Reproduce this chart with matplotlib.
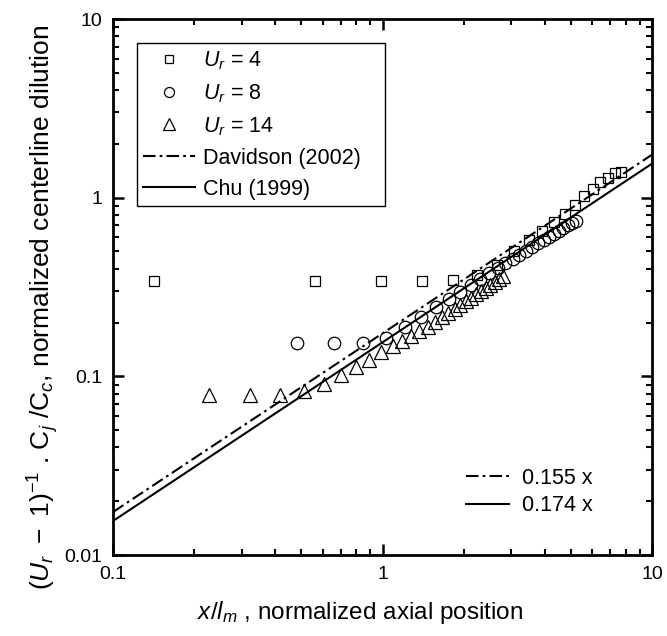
import matplotlib
matplotlib.use("Agg")
import matplotlib.pyplot as plt
import numpy as np
from matplotlib.lines import Line2D

plt.rcParams['font.family'] = ['Liberation Sans', 'DejaVu Sans']
plt.rcParams['mathtext.fontset'] = 'custom'
plt.rcParams['mathtext.rm'] = 'Liberation Sans'
plt.rcParams['mathtext.it'] = 'Liberation Sans:italic'
plt.rcParams['mathtext.bf'] = 'Liberation Sans:bold'

# Measured centerline dilution, Ur = 4
x_ur4 = [0.142, 0.562, 0.987, 1.40, 1.83, 2.24, 2.66, 3.08, 3.50, 3.92,
         4.34, 4.76, 5.18, 5.60, 6.02, 6.44, 6.86, 7.28, 7.70]
y_ur4 = [0.340, 0.340, 0.340, 0.340, 0.345, 0.370, 0.420, 0.500, 0.580, 0.650,
         0.730, 0.810, 0.910, 1.020, 1.120, 1.220, 1.290, 1.370, 1.400]

# Ur = 8
x_ur8 = [0.48, 0.66, 0.85, 1.03, 1.21, 1.39, 1.58, 1.76, 1.94, 2.13,
         2.31, 2.49, 2.68, 2.86, 3.04, 3.22, 3.41, 3.59, 3.77, 3.96,
         4.14, 4.32, 4.50, 4.69, 4.87, 5.05, 5.24]
y_ur8 = [0.153, 0.153, 0.154, 0.163, 0.190, 0.215, 0.243, 0.270, 0.297, 0.325,
         0.350, 0.377, 0.403, 0.430, 0.455, 0.480, 0.505, 0.530, 0.555, 0.580,
         0.600, 0.625, 0.650, 0.675, 0.700, 0.720, 0.745]

# Ur = 14
x_ur14 = [0.227, 0.322, 0.418, 0.513, 0.607, 0.700, 0.797, 0.893, 0.99, 1.09,
          1.18, 1.28, 1.37, 1.47, 1.56, 1.66, 1.75, 1.85, 1.94, 2.04,
          2.13, 2.23, 2.32, 2.42, 2.51, 2.61, 2.70, 2.80]
y_ur14 = [0.079, 0.079, 0.079, 0.083, 0.091, 0.102, 0.113, 0.124, 0.136, 0.148,
          0.158, 0.168, 0.179, 0.190, 0.202, 0.214, 0.226, 0.238, 0.250, 0.263,
          0.275, 0.288, 0.300, 0.313, 0.325, 0.338, 0.350, 0.363]

# Linear correlations y = k x
davidson_coef = 0.174
chu_coef = 0.155
x_line = [0.1, 10.0]
fit_labels = ["0.155 x", "0.174 x"]

DASHDOT = (0, (6, 2, 1.3, 2))

fig = plt.figure(figsize=(6.67, 6.36), dpi=100)
ax = fig.add_axes([113 / 667, 1 - 555 / 636, 539 / 667, 536 / 636])

mk = dict(linestyle='none', markerfacecolor='none', markeredgecolor='black',
          markeredgewidth=0.9)
h4, = ax.plot(x_ur4, y_ur4, marker='s', markersize=7.3, label=r'$U_r$ = 4', **mk)
h8, = ax.plot(x_ur8, y_ur8, marker='o', markersize=9.0, label=r'$U_r$ = 8', **mk)
h14, = ax.plot(x_ur14, y_ur14, marker='^', markersize=10.5, label=r'$U_r$ = 14', **mk)

xl = np.array(x_line)
hd, = ax.plot(xl, davidson_coef * xl, color='black', lw=1.5,
              linestyle=DASHDOT, label='Davidson (2002)   ')
hc, = ax.plot(xl, chu_coef * xl, color='black', lw=1.5, linestyle='-',
              label='Chu (1999)')

ax.set_xscale('log')
ax.set_yscale('log')
ax.set_xlim(0.1, 10)
ax.set_ylim(0.01, 10)

for s in ax.spines.values():
    s.set_linewidth(2.0)
ax.tick_params(which='both', direction='in', top=True, right=True,
               labelsize=14, color='black')
ax.tick_params(which='major', length=8, width=1.8, pad=8)
ax.tick_params(which='minor', length=4.5, width=1.5)
ax.xaxis.set_major_formatter(matplotlib.ticker.FuncFormatter(lambda v, p: f'{v:g}'))
ax.yaxis.set_major_formatter(matplotlib.ticker.FuncFormatter(lambda v, p: f'{v:g}'))

ax.set_xlabel(r'$x/l_m$ , normalized axial position', fontsize=17.5)
ax.xaxis.set_label_coords((360 - 113) / 539, -(612 - 555) / 536)
ax.set_ylabel(r'$\mathit{(U_r\ -\ 1)^{-1}}$ . C$_j$ /C$_c$, normalized centerline dilution',
              fontsize=19)
ax.yaxis.set_label_coords((43 - 113) / 539, (555 - 307) / 536)
ax.xaxis.label.set_va('center')
ax.yaxis.label.set_va('center')

leg1 = ax.legend(handles=[h4, h8, h14, hd, hc], loc='upper left',
                 bbox_to_anchor=(0.0445, 0.955), borderaxespad=0, fontsize=15.5,
                 frameon=True, fancybox=False, edgecolor='black', framealpha=1,
                 handlelength=2.4, handletextpad=0.35, borderpad=0.3,
                 labelspacing=0.47, markerscale=0.8)
leg1.get_frame().set_linewidth(1.0)
ax.add_artist(leg1)

fit_handles = [Line2D([], [], color='black', lw=1.5, linestyle=DASHDOT),
               Line2D([], [], color='black', lw=1.5, linestyle='-')]
ax.legend(handles=fit_handles, labels=fit_labels, loc='upper left',
          bbox_to_anchor=((466 - 113) / 539, (555 - 468) / 536), borderaxespad=0,
          fontsize=15.5, frameon=False, handlelength=2.0, handletextpad=0.6,
          borderpad=0, labelspacing=0.3)

fig.savefig('out.png', dpi=100)
